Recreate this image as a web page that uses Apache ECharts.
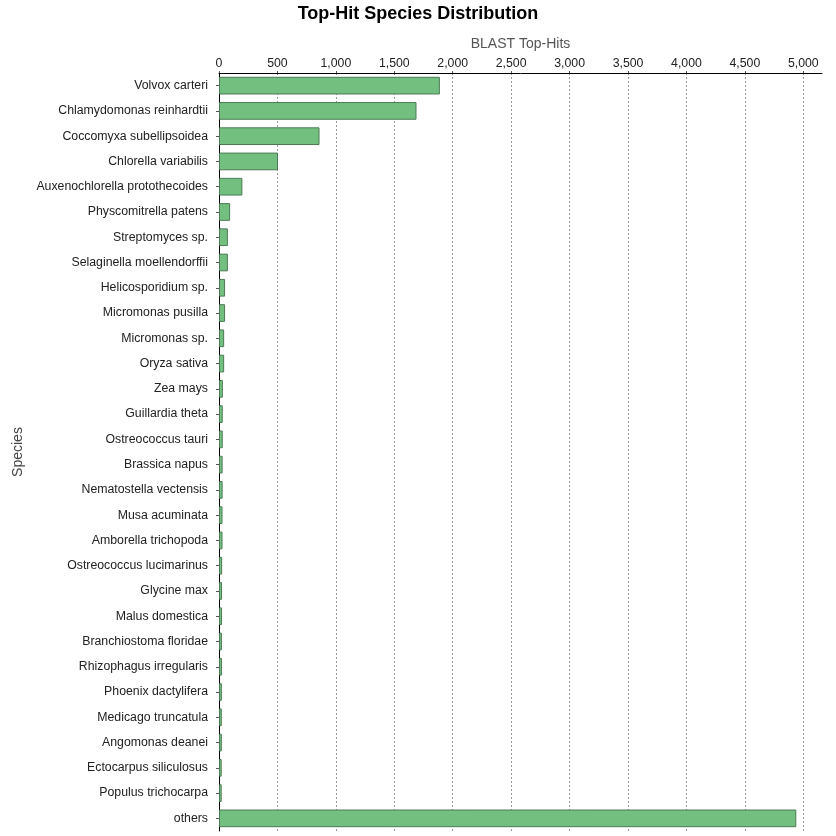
<!DOCTYPE html>
<html>
<head>
<meta charset="utf-8">
<script src="https://cdn.jsdelivr.net/npm/echarts@6/dist/echarts.min.js"></script>
<style>
  html, body { margin: 0; padding: 0; background: #fff; }
  #chart { width: 836px; height: 836px; }
</style>
</head>
<body>
<div id="chart"></div>
<script>
  const species = [
    'Volvox carteri', 'Chlamydomonas reinhardtii', 'Coccomyxa subellipsoidea', 'Chlorella variabilis',
    'Auxenochlorella protothecoides', 'Physcomitrella patens', 'Streptomyces sp.', 'Selaginella moellendorffii',
    'Helicosporidium sp.', 'Micromonas pusilla', 'Micromonas sp.', 'Oryza sativa', 'Zea mays',
    'Guillardia theta', 'Ostreococcus tauri', 'Brassica napus', 'Nematostella vectensis', 'Musa acuminata',
    'Amborella trichopoda', 'Ostreococcus lucimarinus', 'Glycine max', 'Malus domestica',
    'Branchiostoma floridae', 'Rhizophagus irregularis', 'Phoenix dactylifera', 'Medicago truncatula',
    'Angomonas deanei', 'Ectocarpus siliculosus', 'Populus trichocarpa', 'others'
  ]
  const hits = [
    1890, 1690, 860, 505,
    200, 95, 76, 76,
    52, 52, 44, 44, 33,
    32, 32, 31, 31, 30,
    30, 27, 26, 26,
    25, 25, 24, 24,
    24, 23, 23, 4940
  ]
  const xMin = 0
  const xMax = 5160
  const xStep = 500

  const chart = echarts.init(document.getElementById('chart'))
  const font = 'Liberation Sans'
  chart.setOption({
    animation: false,
    title: {
      text: 'Top-Hit Species Distribution',
      left: 'center',
      top: 0,
      textStyle: { fontFamily: font, fontSize: 18, fontWeight: 'bold', color: '#000' }
    },
    grid: { left: 219, right: 14, top: 73, bottom: 5, containLabel: false },
    xAxis: {
      type: 'value',
      position: 'top',
      min: xMin,
      max: xMax,
      interval: xStep,
      name: 'BLAST Top-Hits',
      nameLocation: 'middle',
      nameGap: 22,
      nameTextStyle: { fontFamily: font, fontSize: 14, color: '#555' },
      axisLine: { show: true, lineStyle: { color: '#000', width: 1 } },
      axisTick: { show: true, length: 2, lineStyle: { color: '#555' } },
      axisLabel: {
        fontFamily: font, fontSize: 12.3, color: '#222', margin: 3,
        showMaxLabel: false,
        formatter: v => v.toLocaleString('en-US')
      },
      splitLine: { show: true, showMinLine: false, showMaxLine: false, lineStyle: { color: '#999', type: [2, 2], width: 1 } }
    },
    yAxis: {
      type: 'category',
      data: species,
      inverse: true,
      offset: 4,
      name: 'Species',
      nameLocation: 'middle',
      nameGap: 190,
      nameRotate: 90,
      nameTextStyle: { fontFamily: font, fontSize: 14, color: '#444' },
      axisLine: { show: true, lineStyle: { color: '#000', width: 1 } },
      axisTick: { show: true, length: 3, alignWithLabel: true, lineStyle: { color: '#555' } },
      axisLabel: { fontFamily: font, fontSize: 12.3, color: '#222', margin: 7 },
      splitLine: { show: false }
    },
    series: [{
      type: 'bar',
      data: hits,
      barCategoryGap: '30%',
      itemStyle: { color: '#73bf80', borderColor: '#4d7a56', borderWidth: 1 }
    }]
  })
</script>
</body>
</html>
